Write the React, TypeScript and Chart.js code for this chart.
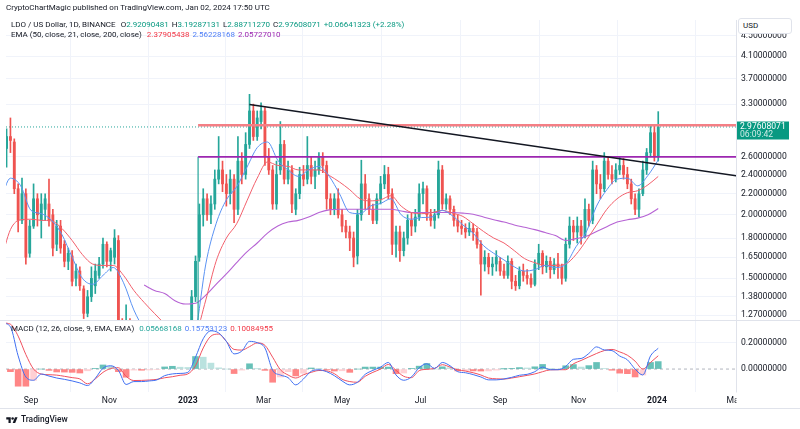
import React, { useEffect, useRef } from 'react';
import { Chart, registerables } from 'chart.js';

Chart.register(...registerables);

const FONT = 'Roboto, "Noto Sans", sans-serif';
const TEXT = '#131722';
const GRID = '#f0f3fa';
const BORDER = '#e0e3eb';
const UP = '#26a69a';
const DOWN = '#ef5350';
const TEAL = '#089981';

// ---------- texts ----------
const publishLine = 'CryptoChartMagic published on TradingView.com, Jan 02, 2024 17:50 UTC';
const symbolTitle = 'LDO / US Dollar, 1D, BINANCE';
const ohlcLabels = ['O', 'H', 'L', 'C'];
const ohlcValues = ['2.92090481', '3.19287131', '2.88711270', '2.97608071'];
const changeText = '+0.06641323 (+2.28%)';
const emaTitle = 'EMA (50, close, 21, close, 200, close)';
const emaLegendValues = ['2.37905438', '2.56228168', '2.05727010'];
const macdTitle = 'MACD (12, 26, close, 9, EMA, EMA)';
const macdLegendValues = ['0.05668168', '0.15753123', '0.10084955'];
const countdownText = '06:09:42';
const currencyText = 'USD';

// ---------- time axis ----------
const baseDate = '2022-08-08';
const monthTickDates = ['2022-09-01', '2022-11-01', '2023-01-01', '2023-03-01', '2023-05-01', '2023-07-01', '2023-09-01', '2023-11-01', '2024-01-01', '2024-03-01'];
const monthTickLabels = ['Sep', 'Nov', '2023', 'Mar', 'May', 'Jul', 'Sep', 'Nov', '2024', 'Mar'];
const X_MIN = 4.55;
const X_MAX = 572.5;

// ---------- candles (3-day bars starting 2022-08-13) ----------
const firstCandleDate = '2022-08-13';
const candleStepDays = 3;
const opens = [
  2.70, 2.85, 2.78, 2.25, 1.95, 2.20, 1.68, 1.90, 2.15, 1.95,
  2.05, 2.10, 2.00, 1.75, 1.90, 1.75, 1.62, 1.66, 1.50, 1.55,
  1.43, 1.28, 1.38, 1.45, 1.52, 1.60, 1.75, 1.62, 1.65, 1.78,
  1.15, 1.10, 1.20, 1.12, 1.05, 1.00, 1.04, 1.02, 0.99, 1.01,
  0.97, 0.93, 0.96, 0.94, 0.95, 0.97, 0.96, 1.02, 1.12, 1.38,
  1.65, 2.00, 2.15, 2.00, 2.10, 2.35, 2.45, 2.30, 2.20, 2.35,
  2.05, 2.55, 2.40, 2.75, 3.20, 2.85, 3.05, 3.20, 2.60, 2.45,
  2.10, 2.45, 2.75, 2.35, 2.45, 2.05, 2.20, 2.40, 2.35, 2.50,
  2.38, 2.45, 2.60, 2.50, 2.15, 2.05, 2.15, 2.00, 1.90, 1.85,
  1.80, 1.66, 2.00, 2.30, 2.15, 2.05, 1.95, 2.15, 2.30, 2.40,
  2.20, 1.75, 1.85, 1.70, 1.80, 1.95, 1.90, 1.98, 2.20, 2.25,
  2.00, 1.95, 2.00, 2.45, 2.10, 2.15, 2.05, 1.95, 1.90, 1.88,
  1.85, 1.88, 1.85, 1.75, 1.60, 1.65, 1.58, 1.60, 1.62, 1.55,
  1.52, 1.62, 1.48, 1.45, 1.55, 1.52, 1.50, 1.46, 1.60, 1.68,
  1.58, 1.62, 1.56, 1.60, 1.58, 1.50, 1.75, 1.90, 1.85, 1.90,
  1.82, 2.05, 1.95, 2.45, 2.30, 2.25, 2.55, 2.40, 2.35, 2.45,
  2.50, 2.40, 2.30, 2.15, 2.05, 2.20, 2.45, 2.65, 2.90, 2.60,
];
const highs = [
  2.95, 3.10, 2.82, 2.30, 2.36, 2.25, 1.95, 2.30, 2.20, 2.20,
  2.20, 2.35, 2.05, 1.95, 1.95, 1.78, 1.72, 1.70, 1.60, 1.58,
  1.45, 1.42, 1.58, 1.60, 1.65, 1.80, 1.77, 1.72, 1.87, 1.82,
  1.25, 1.33, 1.25, 1.18, 1.10, 1.08, 1.10, 1.08, 1.05, 1.06,
  1.02, 0.99, 1.00, 0.98, 1.00, 1.02, 1.05, 1.14, 1.42, 1.66,
  2.10, 2.25, 2.20, 2.18, 2.45, 2.85, 2.55, 2.40, 2.45, 2.40,
  2.85, 2.65, 2.90, 3.45, 3.30, 3.20, 3.32, 3.25, 2.70, 2.50,
  2.55, 3.05, 2.80, 2.55, 2.50, 2.25, 2.48, 2.50, 2.85, 2.60,
  2.55, 2.65, 2.65, 2.55, 2.20, 2.20, 2.25, 2.05, 1.95, 1.90,
  1.85, 2.05, 2.56, 2.40, 2.20, 2.10, 2.20, 2.38, 2.50, 2.48,
  2.25, 1.90, 1.90, 1.85, 2.00, 2.02, 2.05, 2.30, 2.32, 2.28,
  2.05, 2.05, 2.55, 2.50, 2.20, 2.18, 2.08, 2.00, 1.95, 1.92,
  1.93, 1.92, 1.88, 1.78, 1.70, 1.68, 1.65, 1.70, 1.65, 1.60,
  1.66, 1.64, 1.52, 1.58, 1.60, 1.56, 1.53, 1.63, 1.75, 1.70,
  1.66, 1.65, 1.64, 1.68, 1.60, 1.80, 1.98, 1.95, 1.98, 1.95,
  2.15, 2.10, 2.55, 2.50, 2.40, 2.65, 2.60, 2.50, 2.52, 2.60,
  2.58, 2.48, 2.35, 2.20, 2.25, 2.55, 2.70, 3.00, 3.00, 3.19,
];
const lows = [
  2.48, 2.65, 2.20, 1.85, 1.92, 1.60, 1.65, 1.88, 1.90, 1.80,
  1.95, 1.90, 1.66, 1.70, 1.68, 1.58, 1.56, 1.45, 1.45, 1.42,
  1.25, 1.26, 1.35, 1.40, 1.50, 1.57, 1.58, 1.55, 1.60, 1.10,
  1.00, 1.05, 1.08, 1.00, 0.95, 0.96, 0.98, 0.96, 0.94, 0.95,
  0.90, 0.88, 0.91, 0.90, 0.92, 0.93, 0.94, 1.00, 1.10, 1.35,
  1.62, 1.90, 1.95, 1.92, 2.05, 2.30, 2.22, 2.08, 2.10, 1.93,
  2.00, 2.30, 2.35, 2.70, 2.80, 2.80, 2.95, 2.50, 2.40, 2.05,
  2.05, 2.40, 2.30, 2.30, 2.02, 2.00, 2.15, 2.28, 2.30, 2.30,
  2.25, 2.40, 2.42, 2.05, 2.00, 2.00, 1.97, 1.85, 1.80, 1.70,
  1.58, 1.60, 1.95, 2.05, 2.00, 1.92, 1.92, 2.10, 2.25, 2.15,
  1.67, 1.65, 1.62, 1.66, 1.75, 1.82, 1.85, 1.95, 2.10, 1.95,
  1.90, 1.88, 1.97, 2.05, 2.05, 2.00, 1.90, 1.85, 1.83, 1.80,
  1.82, 1.78, 1.72, 1.39, 1.55, 1.53, 1.52, 1.55, 1.52, 1.50,
  1.50, 1.43, 1.42, 1.43, 1.48, 1.46, 1.44, 1.45, 1.56, 1.53,
  1.54, 1.50, 1.53, 1.50, 1.46, 1.48, 1.72, 1.78, 1.76, 1.75,
  1.80, 1.90, 1.92, 2.20, 2.15, 2.22, 2.35, 2.30, 2.32, 2.40,
  2.35, 2.25, 2.10, 2.00, 1.98, 2.18, 2.40, 2.60, 2.55, 2.55,
];
const closes = [
  2.85, 2.80, 2.25, 1.95, 2.20, 1.65, 1.90, 2.15, 2.00, 2.10,
  2.15, 1.95, 1.72, 1.90, 1.72, 1.62, 1.68, 1.48, 1.55, 1.45,
  1.28, 1.38, 1.50, 1.55, 1.60, 1.75, 1.62, 1.70, 1.80, 1.15,
  1.10, 1.20, 1.12, 1.05, 1.00, 1.04, 1.02, 0.99, 1.01, 0.97,
  0.93, 0.96, 0.94, 0.95, 0.97, 0.96, 1.02, 1.12, 1.38, 1.62,
  2.00, 2.15, 2.00, 2.10, 2.35, 2.45, 2.30, 2.20, 2.35, 2.05,
  2.55, 2.40, 2.75, 3.20, 2.85, 3.10, 3.20, 2.60, 2.45, 2.10,
  2.40, 2.75, 2.35, 2.45, 2.10, 2.20, 2.40, 2.35, 2.50, 2.38,
  2.45, 2.60, 2.50, 2.15, 2.05, 2.15, 2.00, 1.90, 1.85, 1.80,
  1.65, 2.00, 2.30, 2.15, 2.05, 1.95, 2.15, 2.30, 2.40, 2.20,
  1.75, 1.85, 1.70, 1.80, 1.95, 1.90, 1.98, 2.20, 2.25, 2.00,
  1.95, 2.00, 2.45, 2.10, 2.15, 2.05, 1.95, 1.90, 1.88, 1.85,
  1.88, 1.85, 1.75, 1.60, 1.65, 1.58, 1.60, 1.65, 1.55, 1.52,
  1.62, 1.48, 1.45, 1.55, 1.52, 1.50, 1.46, 1.60, 1.68, 1.58,
  1.62, 1.56, 1.60, 1.58, 1.50, 1.75, 1.90, 1.85, 1.90, 1.82,
  2.05, 1.95, 2.45, 2.30, 2.25, 2.55, 2.40, 2.35, 2.45, 2.50,
  2.40, 2.30, 2.15, 2.05, 2.20, 2.45, 2.65, 2.90, 2.60, 2.97608071,
];

// ---------- EMAs (sampled every 8 days from 2022-08-08) ----------
const emaFirstDate = '2022-08-08';
const emaStepDays = 8;
const ema21 = [
  2.12, 2.36, 2.28, 2.04, 2.01, 1.95, 1.83, 1.65, 1.50, 1.46,
  1.52, 1.575, 1.47, 1.30, 1.19, 1.11, 1.06, 1.02, 1.00, 1.17,
  1.60, 1.92, 2.14, 2.27, 2.48, 2.71, 2.78, 2.56, 2.45, 2.38,
  2.45, 2.49, 2.38, 2.20, 2.02, 2.01, 2.08, 2.105, 2.15, 2.00,
  1.96, 1.975, 1.98, 2.04, 1.99, 1.91, 1.84, 1.74, 1.68, 1.63,
  1.58, 1.55, 1.56, 1.59, 1.575, 1.60, 1.73, 1.85, 2.08, 2.24,
  2.35, 2.36, 2.28, 2.39, 2.56228168,
];
const ema50 = [
  1.60, 1.87, 1.955, 1.96, 1.95, 1.945, 1.88, 1.78, 1.67, 1.60,
  1.59, 1.59, 1.52, 1.42, 1.345, 1.28, 1.22, 1.16, 1.12, 1.16,
  1.36, 1.62, 1.80, 1.92, 2.13, 2.36, 2.54, 2.50, 2.49, 2.45,
  2.45, 2.45, 2.39, 2.32, 2.24, 2.15, 2.13, 2.14, 2.18, 2.08,
  2.02, 2.01, 2.02, 2.04, 2.015, 1.985, 1.92, 1.855, 1.80, 1.76,
  1.70, 1.64, 1.61, 1.59, 1.59, 1.60, 1.67, 1.78, 1.91, 2.05,
  2.15, 2.21, 2.23, 2.29, 2.37905438,
];
const ema200 = [
  null, null, null, null, null, null, null, null, null, null,
  null, null, null, null, 1.455, 1.42, 1.40, 1.355, 1.335, 1.34,
  1.39, 1.46, 1.53, 1.61, 1.69, 1.76, 1.84, 1.90, 1.935, 1.95,
  1.98, 2.02, 2.045, 2.05, 2.05, 2.05, 2.05, 2.05, 2.05, 2.035,
  2.02, 2.02, 2.02, 2.02, 2.02, 2.015, 2.005, 1.98, 1.955, 1.935,
  1.91, 1.89, 1.87, 1.845, 1.82, 1.78, 1.795, 1.815, 1.855, 1.895,
  1.935, 1.955, 1.97, 2.0, 2.0572701,
];

// ---------- MACD (sampled every 6 days from 2022-08-10) ----------
const macdFirstDate = '2022-08-10';
const macdStepDays = 6;
const macdLine = [
  0.35, 0.32, 0.10, -0.06, -0.085, -0.038, -0.053, -0.068, -0.078, -0.09,
  -0.105, -0.125, -0.07, 0.006, 0.025, -0.01, -0.117, -0.095, -0.095, -0.09,
  -0.082, -0.05, -0.037, -0.033, -0.025, 0.09, 0.23, 0.29, 0.274, 0.21,
  0.115, 0.136, 0.21, 0.20, 0.16, -0.01, -0.045, -0.065, -0.12, -0.075,
  -0.017, -0.006, -0.02, -0.05, -0.09, -0.12, -0.10, -0.04, -0.01, 0.015,
  0.05, -0.045, -0.085, -0.06, 0.01, 0.04, 0.005, 0.05, 0.025, -0.02,
  -0.028, -0.042, -0.06, -0.082, -0.082, -0.075, -0.063, -0.047, -0.04, -0.02,
  0.015, -0.005, -0.005, 0.02, 0.074, 0.08, 0.118, 0.168, 0.145, 0.14,
  0.099, 0.07, 0.0, -0.045, 0.10, 0.15753123,
];
const signalLine = [
  0.35, 0.34, 0.25, 0.11, 0.0, -0.038, -0.043, -0.046, -0.055, -0.065,
  -0.075, -0.112, -0.075, -0.025, 0.004, 0.01, -0.055, -0.087, -0.086, -0.083,
  -0.078, -0.066, -0.058, -0.047, -0.037, 0.025, 0.16, 0.25, 0.265, 0.21,
  0.149, 0.144, 0.17, 0.198, 0.18, 0.09, -0.005, -0.045, -0.068, -0.043,
  -0.025, -0.011, -0.014, -0.035, -0.077, -0.095, -0.10, -0.055, -0.025, 0.0,
  0.035, -0.01, -0.055, -0.065, -0.012, -0.002, 0.005, 0.033, 0.015, -0.006,
  -0.015, -0.028, -0.045, -0.068, -0.074, -0.076, -0.068, -0.058, -0.048, -0.037,
  -0.02, -0.006, -0.005, -0.005, 0.04, 0.065, 0.092, 0.118, 0.14, 0.149,
  0.13, 0.105, 0.06, 0.0, 0.05, 0.10084955,
];
const histogram = [
  0.0, -0.02, -0.13, -0.13, -0.085, 0.0, -0.01, -0.022, -0.023, -0.025,
  -0.03, -0.013, 0.005, 0.031, 0.021, -0.02, -0.062, -0.008, -0.009, -0.007,
  -0.004, 0.016, 0.021, 0.014, 0.012, 0.095, 0.09, 0.045, 0.009, 0.0,
  -0.034, -0.008, 0.04, 0.002, -0.01, -0.1, -0.06, -0.02, -0.052, -0.032,
  0.008, 0.005, -0.006, -0.015, -0.013, -0.025, 0.0, 0.015, 0.015, 0.015,
  0.015, -0.035, -0.03, 0.005, 0.022, 0.042, 0.0, 0.017, 0.01, -0.014,
  -0.013, -0.014, -0.015, -0.014, -0.008, 0.001, 0.005, 0.011, 0.008, 0.017,
  0.035, 0.001, 0.0, 0.025, 0.034, 0.015, 0.026, 0.05, 0.005, -0.009,
  -0.031, -0.035, -0.06, -0.045, 0.05, 0.05668168,
];

// ---------- drawings ----------
const resistanceLevel = 3.0;
const supportLevel = 2.6;
const levelStartDate = '2023-01-09';
const boxBottomPrice = 1.1;
const trendStartDate = '2023-02-18';
const trendStartPrice = 3.295;
const trendEndDate = '2024-03-03';
const trendEndPrice = 2.386;

// ---------- axes ----------
const priceTicks = [1.27, 1.38, 1.5, 1.65, 1.8, 2.0, 2.2, 2.4, 2.6, 3.3, 3.7, 4.1, 4.5];
const PRICE_MIN = 1.242;
const PRICE_MAX = 4.83;
const macdTicks = [0, 0.2];
const MACD_MIN = -0.174;
const MACD_MAX = 0.372;

const AXIS_FONT = 8.6;
const TEXT_FONT = 8;

const DAY = 86400000;
const dayOf = (s: string) => Math.round((Date.parse(s + 'T00:00:00Z') - Date.parse(baseDate + 'T00:00:00Z')) / DAY);

const paneClipPlugin = {
  id: 'paneClip',
  beforeDatasetDraw(chart: any, args: any) {
    const meta = args.meta;
    const xs = meta.xScale;
    const ys = meta.yScale;
    const ctx = chart.ctx;
    ctx.save();
    ctx.beginPath();
    ctx.rect(xs.left, ys.top, xs.right - xs.left, ys.bottom - ys.top);
    ctx.clip();
  },
  afterDatasetDraw(chart: any) {
    chart.ctx.restore();
  },
};

const lastClose = closes[closes.length - 1];

const overlayPlugin = {
  id: 'overlay',
  afterDraw(chart: any) {
    const { ctx } = chart;
    const x = chart.scales.x;
    const y = chart.scales.y;
    const y2 = chart.scales.y2;
    ctx.save();
    ctx.fillStyle = '#ffffff';
    ctx.fillRect(y.left + 0.5, x.top, chart.width - y.left, x.bottom - x.top - 0.5);
    ctx.strokeStyle = BORDER;
    ctx.lineWidth = 1;
    ctx.beginPath();
    const sy = Math.round(y2.top) + 0.5;
    ctx.moveTo(0, sy);
    ctx.lineTo(chart.width, sy);
    const by = Math.round(x.bottom) + 0.5;
    ctx.moveTo(0, by);
    ctx.lineTo(chart.width, by);
    ctx.stroke();
    const py = y.getPixelForValue(lastClose);
    ctx.fillStyle = TEAL;
    ctx.beginPath();
    ctx.rect(y.left + 1, py - 5.5, 52, 18);
    ctx.fill();
    ctx.font = `${AXIS_FONT}px ${FONT}`;
    ctx.textBaseline = 'middle';
    ctx.textAlign = 'left';
    ctx.fillStyle = '#ffffff';
    ctx.fillText(lastClose.toFixed(8), y.left + 4, py);
    ctx.fillStyle = 'rgba(255,255,255,0.8)';
    ctx.fillText(countdownText, y.left + 4, py + 8);
    ctx.restore();
  },
};

export default function App() {
  const ref = useRef<HTMLCanvasElement>(null);

  useEffect(() => {
    if (!ref.current) return;
    const c0 = dayOf(firstCandleDate);
    const cDays = closes.map((_, i) => c0 + i * candleStepDays);
    const candleColors = closes.map((c, i) => (c >= opens[i] ? UP : DOWN));
    const e0 = dayOf(emaFirstDate);
    const eDays = ema21.map((_, i) => e0 + i * emaStepDays);
    const m0 = dayOf(macdFirstDate);
    const mDays = macdLine.map((_, i) => m0 + i * macdStepDays);
    const histColors = histogram.map((h, i) => {
      const prev = i > 0 ? histogram[i - 1] : 0;
      if (h >= 0) return h >= prev ? 'rgba(38,166,154,0.7)' : 'rgba(178,223,219,0.9)';
      return h <= prev ? 'rgba(255,82,82,0.7)' : 'rgba(255,205,210,0.95)';
    });
    const levelStart = dayOf(levelStartDate);
    const monthDays = monthTickDates.map(dayOf);

    const lineDs = (data: any[], color: string, width: number, order: number, extra: any = {}) => ({
      type: 'line',
      data,
      borderColor: color,
      borderWidth: width,
      pointRadius: 0,
      fill: false,
      order,
      clip: 0,
      yAxisID: 'y',
      xAxisID: 'x',
      ...extra,
    });

    const chart = new Chart(ref.current, {
      type: 'line',
      data: {
        datasets: [
          lineDs([{ x: dayOf(trendStartDate), y: trendStartPrice }, { x: dayOf(trendEndDate), y: trendEndPrice }], '#131722', 1.6, 0),
          lineDs([{ x: levelStart, y: resistanceLevel }, { x: X_MAX + 2, y: resistanceLevel }], '#f47f85', 2.6, 0),
          lineDs([{ x: levelStart, y: supportLevel }, { x: X_MAX + 2, y: supportLevel }], '#9c27b0', 1.8, 0),
          lineDs([{ x: levelStart, y: supportLevel }, { x: levelStart, y: boxBottomPrice }], '#26a69a', 1.2, 0),
          lineDs(eDays.map((d, i) => ({ x: d, y: ema21[i] })), '#5b93f3', 1, 1, { cubicInterpolationMode: 'monotone' }),
          lineDs(eDays.map((d, i) => ({ x: d, y: ema50[i] })), '#f2606c', 1, 1, { cubicInterpolationMode: 'monotone' }),
          lineDs(eDays.map((d, i) => ({ x: d, y: ema200[i] })), '#b663d4', 1.1, 1, { cubicInterpolationMode: 'monotone', spanGaps: false }),
          {
            type: 'bar',
            data: cDays.map((d, i) => ({ x: d, y: [opens[i], closes[i]] })),
            backgroundColor: candleColors,
            borderWidth: 0,
            barThickness: 2.2,
            grouped: false,
            minBarLength: 1,
            order: 2,
            clip: 0,
            yAxisID: 'y',
            xAxisID: 'x',
          },
          {
            type: 'bar',
            data: cDays.map((d, i) => ({ x: d, y: [lows[i], highs[i]] })),
            backgroundColor: candleColors,
            borderWidth: 0,
            barThickness: 1,
            grouped: false,
            order: 3,
            clip: 0,
            yAxisID: 'y',
            xAxisID: 'x',
          },
          lineDs([{ x: X_MIN, y: lastClose }, { x: X_MAX, y: lastClose }], '#26a69a', 1, 4, { borderDash: [1, 2] }),
          {
            type: 'line',
            data: mDays.map((d, i) => ({ x: d, y: macdLine[i] })),
            borderColor: '#3f6ff2',
            borderWidth: 1,
            pointRadius: 0,
            cubicInterpolationMode: 'monotone',
            order: 1,
            clip: 0,
            yAxisID: 'y2',
            xAxisID: 'x',
          },
          {
            type: 'line',
            data: mDays.map((d, i) => ({ x: d, y: signalLine[i] })),
            borderColor: '#f0505e',
            borderWidth: 1,
            pointRadius: 0,
            cubicInterpolationMode: 'monotone',
            order: 1,
            clip: 0,
            yAxisID: 'y2',
            xAxisID: 'x',
          },
          {
            type: 'bar',
            data: mDays.map((d, i) => ({ x: d, y: histogram[i] })),
            backgroundColor: histColors,
            borderWidth: 0,
            barThickness: 6,
            grouped: false,
            order: 3,
            clip: 0,
            yAxisID: 'y2',
            xAxisID: 'x',
          },
          {
            type: 'line',
            data: [{ x: X_MIN, y: 0 }, { x: X_MAX, y: 0 }],
            borderColor: '#b2b5be',
            borderWidth: 1,
            borderDash: [3, 3],
            pointRadius: 0,
            order: 4,
            clip: 0,
            yAxisID: 'y2',
            xAxisID: 'x',
          },
        ] as any,
      },
      options: {
        animation: false,
        responsive: false,
        maintainAspectRatio: false,
        devicePixelRatio: 1,
        events: [],
        layout: { padding: { left: 6, top: 20, right: 0, bottom: 21 } },
        plugins: { legend: { display: false }, tooltip: { enabled: false } },
        scales: {
          x: {
            type: 'linear',
            min: X_MIN,
            max: X_MAX,
            offset: false,
            position: 'bottom',
            grid: { color: GRID, drawTicks: false, lineWidth: 1 },
            border: { display: false },
            afterBuildTicks: (s: any) => {
              s.ticks = monthDays.map((v) => ({ value: v }));
            },
            afterFit: (s: any) => {
              s.height = 16;
            },
            ticks: {
              autoSkip: false,
              maxRotation: 0,
              padding: 4,
              color: TEXT,
              callback: (_v: any, i: number) => monthTickLabels[i],
              font: (ctx: any) => ({
                family: FONT,
                size: AXIS_FONT,
                weight: /^\d{4}$/.test(monthTickLabels[ctx.index] || '') ? 'bold' : 'normal',
              }),
            },
          },
          y: {
            type: 'logarithmic',
            position: 'right',
            stack: 'panes',
            stackWeight: 300,
            min: PRICE_MIN,
            max: PRICE_MAX,
            grid: { color: GRID, drawTicks: false },
            border: { display: true, color: BORDER },
            afterBuildTicks: (s: any) => {
              s.ticks = priceTicks.map((v) => ({ value: v }));
            },
            afterFit: (s: any) => {
              s.width = 64;
            },
            ticks: {
              autoSkip: false,
              padding: 5,
              color: TEXT,
              font: { family: FONT, size: AXIS_FONT },
              callback: (v: any) => Number(v).toFixed(8),
            },
          },
          y2: {
            type: 'linear',
            position: 'right',
            stack: 'panes',
            stackWeight: 72,
            min: MACD_MIN,
            max: MACD_MAX,
            grid: {
              color: (ctx: any) => (ctx.tick && ctx.tick.value === 0 ? 'rgba(0,0,0,0)' : GRID),
              drawTicks: false,
            },
            border: { display: true, color: BORDER },
            afterBuildTicks: (s: any) => {
              s.ticks = macdTicks.map((v) => ({ value: v }));
            },
            afterFit: (s: any) => {
              s.width = 64;
            },
            ticks: {
              autoSkip: false,
              padding: 5,
              color: TEXT,
              font: { family: FONT, size: AXIS_FONT },
              callback: (v: any) => Number(v).toFixed(8),
            },
          },
        },
      } as any,
      plugins: [paneClipPlugin, overlayPlugin] as any,
    });
    return () => chart.destroy();
  }, []);

  const small: React.CSSProperties = { position: 'absolute', fontSize: TEXT_FONT, lineHeight: '10px', whiteSpace: 'nowrap', color: TEXT };
  const emaColors = ['#f23645', '#4f7ff7', '#9c27b0'];
  const macdColors = ['#26a69a', '#4f7ff7', '#f23645'];

  return (
    <div style={{ position: 'absolute', left: 0, top: 0, width: 800, height: 429, background: '#ffffff', overflow: 'hidden', fontFamily: FONT }}>
      <canvas ref={ref} width={800} height={429} style={{ display: 'block', position: 'absolute', left: 0, top: 0 }} />
      <div style={{ ...small, left: 6, top: 3 }}>{publishLine}</div>
      <div style={{ ...small, left: 11, top: 20 }}>
        <span>{symbolTitle}</span>
        {ohlcLabels.map((l, i) => (
          <span key={l} style={{ marginLeft: i === 0 ? 5 : 3 }}>
            {l}
            <span style={{ color: TEAL }}>{ohlcValues[i]}</span>
          </span>
        ))}
        <span style={{ color: TEAL, marginLeft: 3 }}>{changeText}</span>
      </div>
      <div style={{ ...small, left: 11, top: 29.5 }}>
        <span>{emaTitle}</span>
        {emaLegendValues.map((v, i) => (
          <span key={v} style={{ color: emaColors[i], marginLeft: i === 0 ? 5 : 3 }}>{v}</span>
        ))}
      </div>
      <div style={{ ...small, left: 11, top: 324.3 }}>
        <span>{macdTitle}</span>
        {macdLegendValues.map((v, i) => (
          <span key={v} style={{ color: macdColors[i], marginLeft: i === 0 ? 5 : 3 }}>{v}</span>
        ))}
      </div>
      <div style={{ position: 'absolute', left: 738, top: 18, width: 54, height: 16, border: `1px solid ${BORDER}`, borderRadius: 3, background: '#ffffff', boxSizing: 'border-box', fontSize: 8, lineHeight: '13px', paddingLeft: 4, color: TEXT }}>
        {currencyText}
      </div>
      <div style={{ position: 'absolute', left: 6, top: 414, display: 'flex', alignItems: 'center', height: 10 }}>
        <svg width="12" height="7" viewBox="0 0 36 22">
          <path d="M14 22H7V11H0V4h14v18Z M28 22h-8l7.5-18h8L28 22Z" fill="#131722" />
          <circle cx="20" cy="8" r="4" fill="#131722" />
        </svg>
        <span style={{ marginLeft: 3, fontSize: 8.4, fontWeight: 500, color: TEXT, lineHeight: '10px' }}>TradingView</span>
      </div>
    </div>
  );
}
